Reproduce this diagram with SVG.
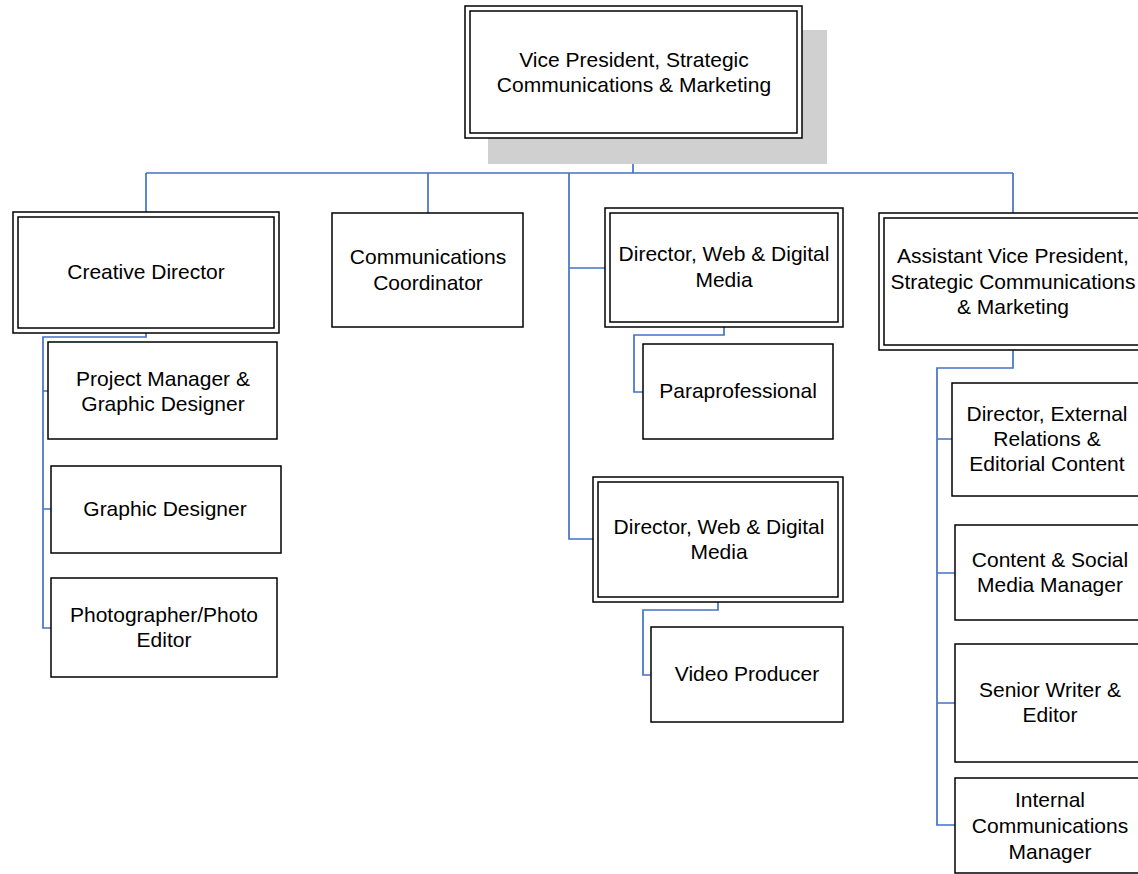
<svg xmlns="http://www.w3.org/2000/svg" width="1138" height="874" viewBox="0 0 1138 874">
<style>
.box{fill:#fff;stroke:#000;stroke-width:1.5}
.in{fill:none;stroke:#000;stroke-width:1.5}
.t{font-family:"Liberation Sans",Arial,sans-serif;font-size:21px;fill:#000;text-anchor:middle}
.c{fill:none;stroke:#4472C4;stroke-width:1.7}
</style>
<rect width="1138" height="874" fill="#fff"/>
<g id="connectors">
<path class="c" d="M633 138V173M146 173H1013M146 173V212M428 173V213M1013 173V213M569 173V539H595M569 268H605"/>
<path class="c" d="M146 333V337H43V628H51M43 391H48M43 509H51"/>
<path class="c" d="M724 327V335H634V392H643"/>
<path class="c" d="M718 602V610H643V675H651"/>
<path class="c" d="M1013 350V368H937V825H955M937 439H952M937 573H955M937 703H955"/>
</g>
<g id="vp">
<rect x="488" y="30" width="339" height="134" fill="#d0d0d0"/>
<rect class="box" x="465" y="6" width="337" height="132"/>
<rect class="in" x="470" y="11" width="327" height="122"/>
<text class="t" x="634" y="67">Vice President, Strategic</text>
<text class="t" x="634" y="92">Communications &amp; Marketing</text>
</g>
<g id="creative">
<rect class="box" x="13" y="212" width="266" height="121"/>
<rect class="in" x="18" y="217" width="256" height="111"/>
<text class="t" x="146" y="279">Creative Director</text>
</g>
<g id="pm">
<rect class="box" x="48" y="342" width="229" height="97"/>
<text class="t" x="163" y="386">Project Manager &amp;</text>
<text class="t" x="163" y="411">Graphic Designer</text>
</g>
<g id="gd">
<rect class="box" x="51" y="466" width="230" height="87"/>
<text class="t" x="165" y="516">Graphic Designer</text>
</g>
<g id="photo">
<rect class="box" x="51" y="578" width="226" height="99"/>
<text class="t" x="164" y="622">Photographer/Photo</text>
<text class="t" x="164" y="647">Editor</text>
</g>
<g id="coord">
<rect class="box" x="332" y="213" width="191" height="114"/>
<text class="t" x="428" y="264">Communications</text>
<text class="t" x="428" y="290">Coordinator</text>
</g>
<g id="dir1">
<rect class="box" x="605" y="208" width="238" height="119"/>
<rect class="in" x="610" y="213" width="228" height="109"/>
<text class="t" x="724" y="261">Director, Web &amp; Digital</text>
<text class="t" x="724" y="287">Media</text>
</g>
<g id="para">
<rect class="box" x="643" y="344" width="190" height="95"/>
<text class="t" x="738" y="398">Paraprofessional</text>
</g>
<g id="dir2">
<rect class="box" x="593" y="477" width="250" height="125"/>
<rect class="in" x="598" y="482" width="240" height="115"/>
<text class="t" x="719" y="534">Director, Web &amp; Digital</text>
<text class="t" x="719" y="559">Media</text>
</g>
<g id="video">
<rect class="box" x="651" y="627" width="192" height="95"/>
<text class="t" x="747" y="681">Video Producer</text>
</g>
<g id="avp">
<rect class="box" x="879" y="213" width="270" height="137"/>
<rect class="in" x="884" y="218" width="260" height="127"/>
<text class="t" x="1013" y="263">Assistant Vice President,</text>
<text class="t" x="1013" y="289">Strategic Communications</text>
<text class="t" x="1013" y="314">&amp; Marketing</text>
</g>
<g id="ext">
<rect class="box" x="952" y="383" width="196" height="113"/>
<text class="t" x="1047" y="421">Director, External</text>
<text class="t" x="1047" y="446">Relations &amp;</text>
<text class="t" x="1047" y="471">Editorial Content</text>
</g>
<g id="social">
<rect class="box" x="955" y="525" width="193" height="95"/>
<text class="t" x="1050" y="567">Content &amp; Social</text>
<text class="t" x="1050" y="592">Media Manager</text>
</g>
<g id="writer">
<rect class="box" x="955" y="644" width="193" height="118"/>
<text class="t" x="1050" y="697">Senior Writer &amp;</text>
<text class="t" x="1050" y="722">Editor</text>
</g>
<g id="internal">
<rect class="box" x="955" y="778" width="193" height="95"/>
<text class="t" x="1050" y="807">Internal</text>
<text class="t" x="1050" y="833">Communications</text>
<text class="t" x="1050" y="859">Manager</text>
</g>
</svg>
